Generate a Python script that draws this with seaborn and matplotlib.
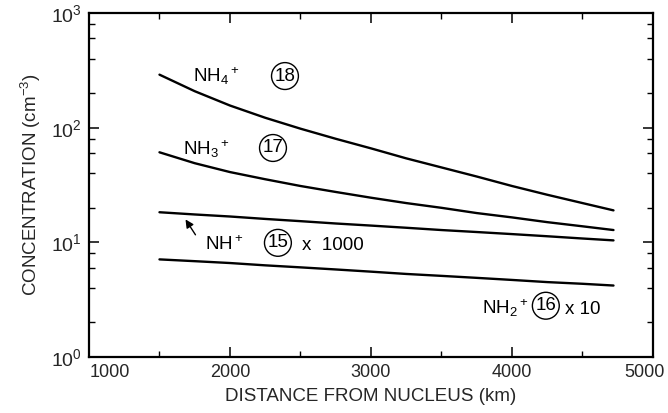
import numpy as np
import pandas as pd
import seaborn as sns
import matplotlib
matplotlib.use("Agg")
import matplotlib.pyplot as plt
import matplotlib.transforms as mtransforms
from matplotlib.ticker import FixedLocator, NullFormatter, LogLocator

# Ion concentration profiles vs. distance from the nucleus
distance_km = [1500, 1750, 2000, 2250, 2500, 2750, 3000, 3250, 3500, 3750, 4000, 4250, 4500, 4720]
nh4_plus = [290, 208, 156, 122, 98, 80, 66, 54, 45, 37.5, 31, 26, 22, 19]
nh3_plus = [61, 49, 41, 35.5, 31, 27.5, 24.5, 22, 20, 18, 16.5, 15, 13.8, 12.8]
nh_plus_x1000 = [18.3, 17.5, 16.8, 16.0, 15.3, 14.6, 14.0, 13.4, 12.8, 12.3, 11.8, 11.3, 10.8, 10.4]
nh2_plus_x10 = [7.1, 6.85, 6.6, 6.3, 6.05, 5.8, 5.55, 5.3, 5.1, 4.9, 4.7, 4.5, 4.35, 4.2]

x_ticks = [1000, 2000, 3000, 4000, 5000]
y_ticks = [1, 10, 100, 1000]
y_tick_labels = ["$10^0$", "$10^1$", "$10^2$", "$10^3$"]

series = {
    "NH4+": nh4_plus,
    "NH3+": nh3_plus,
    "NH+": nh_plus_x1000,
    "NH2+": nh2_plus_x10,
}
df = pd.concat(
    [pd.DataFrame({"distance": distance_km, "conc": v, "ion": k}) for k, v in series.items()],
    ignore_index=True,
)

sns.set_style("ticks")
plt.rcParams["font.family"] = ["Liberation Sans", "DejaVu Sans"]
plt.rcParams["mathtext.fontset"] = "custom"
plt.rcParams["mathtext.rm"] = "Liberation Sans"
plt.rcParams["mathtext.it"] = "Liberation Sans:italic"
plt.rcParams["mathtext.bf"] = "Liberation Sans:bold"

fig = plt.figure(figsize=(6.68, 4.13), dpi=100)
ax = fig.add_axes([0.1332, 0.1356, 0.8443, 0.8329])

sns.lineplot(data=df, x="distance", y="conc", hue="ion", units="ion", estimator=None,
             palette=["black"] * 4, legend=False, linewidth=1.7, ax=ax)

ax.set_yscale("log")
ax.set_xlim(1000, 5000)
ax.set_ylim(1, 1000)
ax.set_xticks(x_ticks)
ax.set_xticklabels([str(t) for t in x_ticks])
ax.xaxis.set_minor_locator(FixedLocator([1500, 2500, 3500, 4500]))
ax.set_yticks(y_ticks)
ax.set_yticklabels(y_tick_labels)
ax.yaxis.set_minor_locator(LogLocator(base=10, subs=(2, 4, 6, 8)))
ax.yaxis.set_minor_formatter(NullFormatter())

ax.tick_params(which="both", direction="in", top=True, right=True, color="black")
ax.tick_params(which="major", length=7, width=1.1, labelsize=13, pad=5)
ax.tick_params(axis="y", which="major", labelsize=14)
ax.tick_params(which="minor", length=4, width=1.0)
for s in ax.spines.values():
    s.set_linewidth(1.6)
    s.set_color("black")

# keep the end labels of the distance axis inside the frame
xlabels = ax.get_xticklabels()
xlabels[0].set_transform(xlabels[0].get_transform() +
                         mtransforms.ScaledTranslation(0.21, 0, fig.dpi_scale_trans))
xlabels[-1].set_transform(xlabels[-1].get_transform() +
                          mtransforms.ScaledTranslation(-0.08, 0, fig.dpi_scale_trans))

ax.set_xlabel("DISTANCE FROM NUCLEUS (km)", fontsize=13.5, labelpad=5)
ax.set_ylabel("CONCENTRATION (cm$^{-3}$)", fontsize=13.5, labelpad=6)

lbl = dict(fontsize=13.5, color="black")
circ = dict(boxstyle="circle,pad=0.16", fc="white", ec="black", lw=1.0)

ax.text(1738, 250, "NH$_4{}^+$", ha="left", va="baseline", **lbl)
ax.text(2390, 282, "18", ha="center", va="center", bbox=circ, **lbl)

ax.text(1667, 57.8, "NH$_3{}^+$", ha="left", va="baseline", **lbl)
ax.text(2305, 66.5, "17", ha="center", va="center", bbox=circ, **lbl)

ax.text(1823, 8.6, "NH$^+$", ha="left", va="baseline", **lbl)
ax.text(2340, 9.9, "15", ha="center", va="center", bbox=circ, **lbl)
ax.text(2511, 8.6, "x  1000", ha="left", va="baseline", **lbl)
ax.annotate("", xy=(1674, 16.6), xytext=(1766, 11.1),
            arrowprops=dict(arrowstyle="-|>", color="black", lw=1.0, mutation_scale=12))

ax.text(3790, 2.35, "NH$_2{}^+$", ha="left", va="baseline", **lbl)
ax.text(4240, 2.8, "16", ha="center", va="center", bbox=circ, **lbl)
ax.text(4375, 2.35, "x 10", ha="left", va="baseline", **lbl)

fig.savefig("out.png", dpi=100)
